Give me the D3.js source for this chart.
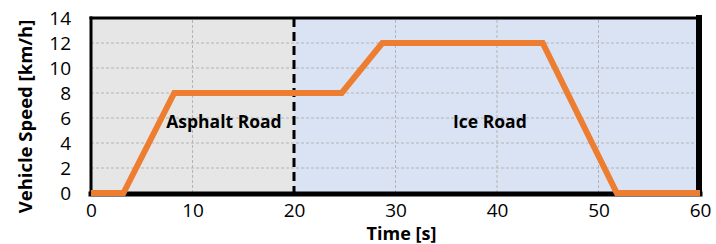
<!DOCTYPE html>
<html>
<head>
<meta charset="utf-8">
<script src="https://cdn.jsdelivr.net/npm/d3@7"></script>
<style>
  body { margin: 0; background: #fff; }
  text { font-family: "Open Sans", sans-serif; }
</style>
</head>
<body>
<div id="chart"></div>
<script>
// data
let timeS = [0, 3.2, 8.2, 24.7, 28.7, 44.5, 51.8, 60];
let speedKmh = [0, 0, 8, 8, 12, 12, 0, 0];
let xTicks = [0, 10, 20, 30, 40, 50, 60];
let yTicks = [0, 2, 4, 6, 8, 10, 12, 14];
let regions = [
  { name: "Asphalt Road", from: 0, to: 20, fill: "#e6e6e6" },
  { name: "Ice Road", from: 20, to: 60, fill: "#dae3f3" }
];
let regionLabelPos = [[13.1, 5.2], [39.3, 5.2]];

let w = 716, h = 244;
let margin = { left: 91, right: 16, top: 18, bottom: 51 };

let svg = d3.select("#chart").append("svg")
  .attr("width", w)
  .attr("height", h);

let x = d3.scaleLinear().domain([0, 60]).range([margin.left, w - margin.right]);
let y = d3.scaleLinear().domain([0, 14]).range([h - margin.bottom, margin.top]);

// region backgrounds
svg.append("g").selectAll("rect").data(regions).join("rect")
  .attr("x", d => x(d.from))
  .attr("y", y(14))
  .attr("width", d => x(d.to) - x(d.from))
  .attr("height", y(0) - y(14))
  .attr("fill", d => d.fill);

// grid
let grid = svg.append("g");
grid.selectAll(".gy").data(yTicks.filter(v => v > 0 && v < 14)).join("line")
  .attr("x1", x(0)).attr("x2", x(60))
  .attr("y1", d => y(d)).attr("y2", d => y(d))
  .attr("stroke", "#b4b4b4").attr("stroke-width", 1)
  .attr("stroke-dasharray", "3,2");
grid.selectAll(".gx").data(xTicks.filter(v => v > 0 && v < 60 && v != 20)).join("line")
  .attr("y1", y(0)).attr("y2", y(14))
  .attr("x1", d => x(d)).attr("x2", d => x(d))
  .attr("stroke", "#b4b4b4").attr("stroke-width", 1)
  .attr("stroke-dasharray", "3,2");

// road boundary
svg.append("line")
  .attr("x1", x(20)).attr("x2", x(20))
  .attr("y1", y(14)).attr("y2", y(0))
  .attr("stroke", "#000").attr("stroke-width", 3)
  .attr("stroke-dasharray", "9,5");

// plot frame
let frame = svg.append("g").attr("stroke", "#000").attr("stroke-linecap", "square");
frame.append("line").attr("x1", x(0)).attr("x2", x(60)).attr("y1", y(14)).attr("y2", y(14)).attr("stroke-width", 3);
frame.append("line").attr("x1", x(0)).attr("x2", x(0)).attr("y1", y(14)).attr("y2", y(0)).attr("stroke-width", 3);
frame.append("line").attr("x1", x(0)).attr("x2", x(60)).attr("y1", y(0) + 1).attr("y2", y(0) + 1).attr("stroke-width", 5);
frame.append("line").attr("x1", x(60) - 1).attr("x2", x(60) - 1).attr("y1", y(14)).attr("y2", y(0)).attr("stroke-width", 6);

// region labels
svg.append("g").selectAll("text").data(regions).join("text")
  .attr("x", (d, i) => x(regionLabelPos[i][0]))
  .attr("y", (d, i) => y(regionLabelPos[i][1]))
  .attr("text-anchor", "middle")
  .style("font-size", "17.5px")
  .style("font-weight", "bold")
  .style("fill", "#000")
  .text(d => d.name);

// speed line
let line = d3.line().x(d => x(d[0])).y(d => y(d[1]));
svg.append("path")
  .datum(timeS.map((t, i) => [t, speedKmh[i]]))
  .attr("d", line)
  .attr("fill", "none")
  .attr("stroke", "#ed7d31")
  .attr("stroke-width", 6)
  .attr("stroke-linejoin", "miter");

// axes
let xAxis = d3.axisBottom(x).tickValues(xTicks).tickSize(0).tickPadding(11);
let xg = svg.append("g").attr("transform", "translate(0," + y(0) + ")").call(xAxis);
xg.select(".domain").remove();
xg.selectAll("text").style("font-size", "19px").style("font-family", "Open Sans").attr("fill", "#000");

let yAxis = d3.axisLeft(y).tickValues(yTicks).tickSize(0).tickPadding(20);
let yg = svg.append("g").attr("transform", "translate(" + x(0) + ",0)").call(yAxis);
yg.select(".domain").remove();
yg.selectAll("text").style("font-size", "19px").style("font-family", "Open Sans").attr("fill", "#000");

// axis titles
svg.append("text")
  .attr("x", x(30) + 6)
  .attr("y", 240)
  .attr("text-anchor", "middle")
  .style("font-size", "18px")
  .style("font-weight", "bold")
  .text("Time [s]");

svg.append("text")
  .attr("transform", "translate(32," + (y(7) + 11) + ") rotate(-90)")
  .attr("text-anchor", "middle")
  .style("font-size", "18.5px")
  .style("font-weight", "bold")
  .text("Vehicle Speed [km/h]");
</script>
</body>
</html>
